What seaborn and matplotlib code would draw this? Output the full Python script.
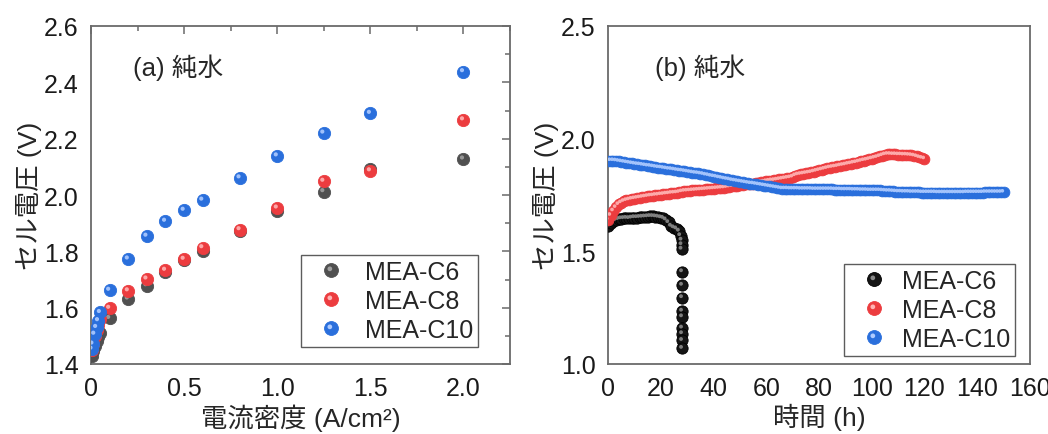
import numpy as np
import pandas as pd
import matplotlib
matplotlib.use("Agg")
import matplotlib.pyplot as plt
import seaborn as sns
from matplotlib.markers import MarkerStyle
from matplotlib.transforms import Affine2D
from matplotlib.lines import Line2D
from matplotlib.ticker import MultipleLocator, FixedLocator, FuncFormatter

# ---------------- data: panel (a) polarization ----------------
current = [0.005, 0.01, 0.02, 0.03, 0.04, 0.05, 0.1, 0.2, 0.3, 0.4, 0.5, 0.6, 0.8, 1.0, 1.25, 1.5, 2.0]
v_c6_a = [1.430, 1.445, 1.465, 1.480, 1.495, 1.510, 1.562, 1.631, 1.678, 1.728, 1.768, 1.801, 1.873, 1.944, 2.012, 2.092, 2.128]
v_c8_a = [1.450, 1.470, 1.500, 1.520, 1.540, 1.560, 1.598, 1.660, 1.702, 1.733, 1.772, 1.813, 1.877, 1.954, 2.049, 2.086, 2.267]
v_c10_a = [1.453, 1.471, 1.506, 1.530, 1.554, 1.583, 1.662, 1.773, 1.854, 1.907, 1.946, 1.982, 2.061, 2.139, 2.220, 2.290, 2.438]

# ---------------- data: panel (b) durability ----------------
time_c6 = [0, 1, 2, 3, 4, 5, 6, 7, 8, 9, 10, 11, 12, 13, 14, 15, 16, 17, 18, 19, 20,
           21, 22, 23, 24, 25, 26, 27, 27.5, 28, 28, 28,
           28.2, 28.2, 28.2, 28.2, 28.2, 28.2, 28.2, 28.2, 28.2]
v_c6_b = [1.612, 1.625, 1.633, 1.638, 1.642, 1.645, 1.646, 1.647, 1.646, 1.648, 1.650,
          1.650, 1.651, 1.652, 1.653, 1.654, 1.655, 1.655, 1.654, 1.652, 1.650,
          1.647, 1.640, 1.628, 1.612, 1.605, 1.600, 1.590, 1.570, 1.550, 1.530, 1.510,
          1.410, 1.350, 1.295, 1.235, 1.210, 1.160, 1.135, 1.105, 1.070]

time_c8 = list(range(0, 121))
v_c8_b = [1.640, 1.660, 1.680, 1.695, 1.708, 1.716, 1.722, 1.726, 1.729, 1.732,
          1.734, 1.736, 1.738, 1.740, 1.742, 1.744, 1.746, 1.747, 1.749, 1.750,
          1.752, 1.753, 1.755, 1.756, 1.758, 1.759, 1.760, 1.762, 1.765, 1.767,
          1.768, 1.769, 1.770, 1.771, 1.772, 1.773, 1.774, 1.775, 1.776, 1.777,
          1.778, 1.779, 1.780, 1.781, 1.782, 1.784, 1.786, 1.788, 1.790, 1.792,
          1.794, 1.796, 1.797, 1.798, 1.799, 1.800, 1.802, 1.804, 1.806, 1.808,
          1.810, 1.812, 1.814, 1.815, 1.817, 1.819, 1.821, 1.823, 1.825, 1.827,
          1.830, 1.836, 1.840, 1.842, 1.844, 1.846, 1.848, 1.850, 1.853, 1.856,
          1.859, 1.862, 1.865, 1.868, 1.871, 1.873, 1.875, 1.877, 1.880, 1.882,
          1.884, 1.887, 1.889, 1.892, 1.894, 1.897, 1.900, 1.903, 1.905, 1.908,
          1.911, 1.914, 1.917, 1.921, 1.925, 1.929, 1.931, 1.931, 1.930, 1.930,
          1.929, 1.929, 1.928, 1.928, 1.927, 1.926, 1.924, 1.921, 1.917, 1.914,
          1.911]

time_c10 = list(range(0, 151))
v_c10_b = [1.902, 1.903, 1.903, 1.902, 1.900, 1.898, 1.896, 1.894, 1.892, 1.890,
           1.888, 1.886, 1.885, 1.883, 1.881, 1.879, 1.878, 1.876, 1.874, 1.872,
           1.871, 1.869, 1.867, 1.865, 1.864, 1.862, 1.860, 1.858, 1.857, 1.855,
           1.853, 1.851, 1.849, 1.847, 1.846, 1.844, 1.842, 1.839, 1.837, 1.834,
           1.832, 1.830, 1.827, 1.825, 1.822, 1.820, 1.818, 1.815, 1.813, 1.811,
           1.809, 1.807, 1.805, 1.803, 1.801, 1.800, 1.798, 1.796, 1.794, 1.792,
           1.790, 1.788, 1.786, 1.784, 1.782, 1.780, 1.778, 1.778, 1.778, 1.777,
           1.777, 1.777, 1.777, 1.776, 1.776, 1.776, 1.776, 1.776, 1.775, 1.775,
           1.775, 1.775, 1.775, 1.775, 1.775, 1.775, 1.774, 1.774, 1.774, 1.773,
           1.773, 1.773, 1.773, 1.772, 1.772, 1.772, 1.771, 1.771, 1.771, 1.770,
           1.770, 1.770, 1.770, 1.770, 1.769, 1.768, 1.767, 1.767, 1.766, 1.765,
           1.764, 1.764, 1.763, 1.763, 1.763, 1.762, 1.762, 1.762, 1.762, 1.761,
           1.761, 1.761, 1.761, 1.761, 1.761, 1.760, 1.760, 1.760, 1.760, 1.760,
           1.760, 1.760, 1.760, 1.760, 1.760, 1.760, 1.761, 1.761, 1.761, 1.761,
           1.761, 1.761, 1.761, 1.762, 1.762, 1.762, 1.762, 1.762, 1.762, 1.762,
           1.763]

labels = ["MEA-C6", "MEA-C8", "MEA-C10"]
xlabel_a = "電流密度 (A/cm²)"
xlabel_b = "時間 (h)"
ylabel = "セル電圧 (V)"
title_a = "(a) 純水"
title_b = "(b) 純水"

# ---------------- style ----------------
sns.set_theme(style="white")
plt.rcParams["font.family"] = ["Liberation Sans", "Noto Sans CJK JP"]
plt.rcParams["axes.unicode_minus"] = False

SPINE = "#6a6a6a"
col_a = ["#505050", "#ec3c3f", "#2a6fdc"]
col_b = ["#151515", "#ec3c3f", "#2a6fdc"]
hl_col_a = ["#a0a0a0", "#ffb4b4", "#aecbff"]
hl_col_b = ["#8a8a8a", "#ffb4b4", "#aecbff"]

HL = MarkerStyle("o", transform=Affine2D().scale(0.34).translate(-0.12, 0.12))

fig = plt.figure(figsize=(10.48, 4.35), dpi=100)
ax_a = fig.add_axes([91 / 1048, 70 / 435, 419 / 1048, 338 / 435])
ax_b = fig.add_axes([608 / 1048, 70 / 435, 422 / 1048, 338 / 435])


def balls(ax, x, y, color, hl, s, edge):
    df = pd.DataFrame({"x": x, "y": y})
    sns.scatterplot(data=df, x="x", y="y", ax=ax, color=color, s=s,
                    edgecolor=edge, linewidth=0.6, legend=False, zorder=3)
    sns.scatterplot(data=df, x="x", y="y", ax=ax, color=hl, s=s, marker=HL,
                    edgecolor="none", linewidth=0, legend=False, zorder=3, alpha=0.9)


# panel (a)
for v, c, h in zip([v_c6_a, v_c8_a, v_c10_a], col_a, hl_col_a):
    balls(ax_a, current, v, c, h, 78, c)

# panel (b)
balls(ax_b, time_c6, v_c6_b, col_b[0], hl_col_b[0], 66, "#000000")
balls(ax_b, time_c8, v_c8_b, col_b[1], hl_col_b[1], 60, col_b[1])
balls(ax_b, time_c10, v_c10_b, col_b[2], hl_col_b[2], 60, col_b[2])

FS = 18


def style_axes(ax):
    for sp in ax.spines.values():
        sp.set_visible(True)
        sp.set_color(SPINE)
        sp.set_linewidth(1.3)
    ax.tick_params(axis="both", which="both", colors=SPINE, labelcolor="#1a1a1a",
                   labelsize=FS, width=1.1)
    ax.tick_params(axis="both", which="major", length=6, pad=3)
    ax.tick_params(axis="both", which="minor", length=3.5)
    ax.grid(False)


# axes (a)
ax_a.set_xlim(0, 2.25)
ax_a.set_ylim(1.4, 2.6)
ax_a.xaxis.set_major_locator(FixedLocator([0, 0.5, 1.0, 1.5, 2.0]))
ax_a.xaxis.set_major_formatter(FuncFormatter(lambda v, p: "0" if v == 0 else f"{v:.1f}"))
ax_a.xaxis.set_minor_locator(MultipleLocator(0.25))
ax_a.yaxis.set_major_locator(MultipleLocator(0.2))
ax_a.yaxis.set_major_formatter(FuncFormatter(lambda v, p: f"{v:.1f}"))
ax_a.yaxis.set_minor_locator(MultipleLocator(0.1))
style_axes(ax_a)
ax_a.tick_params(axis="both", which="both", direction="out", top=True, right=True)
# mirrored ticks point inward
for t in ax_a.xaxis.get_major_ticks() + ax_a.xaxis.get_minor_ticks():
    t.tick2line.set_marker(3)
for t in ax_a.yaxis.get_major_ticks() + ax_a.yaxis.get_minor_ticks():
    t.tick2line.set_marker(0)
ax_a.set_xlabel(xlabel_a, fontsize=19, labelpad=2)
ax_a.set_ylabel(ylabel, fontsize=19, labelpad=1)
ax_a.text(0.10, 0.88, title_a, transform=ax_a.transAxes, fontsize=18.5,
          ha="left", va="center")

# axes (b)
ax_b.set_xlim(0, 160)
ax_b.set_ylim(1.0, 2.5)
ax_b.xaxis.set_major_locator(MultipleLocator(20))
ax_b.xaxis.set_minor_locator(MultipleLocator(10))
ax_b.yaxis.set_major_locator(MultipleLocator(0.5))
ax_b.yaxis.set_major_formatter(FuncFormatter(lambda v, p: f"{v:.1f}"))
ax_b.yaxis.set_minor_locator(MultipleLocator(0.1))
style_axes(ax_b)
ax_b.tick_params(axis="both", which="both", direction="out", top=False, right=False)
ax_b.set_xlabel(xlabel_b, fontsize=19, labelpad=2)
ax_b.set_ylabel(ylabel, fontsize=19, labelpad=1)
ax_b.text(0.111, 0.88, title_b, transform=ax_b.transAxes, fontsize=18.5,
          ha="left", va="center")


def make_handles(cols, hls, edges):
    hs = []
    for c, h, e in zip(cols, hls, edges):
        m = Line2D([], [], linestyle="none", marker="o", markersize=10,
                   markerfacecolor=c, markeredgecolor=e, markeredgewidth=0.6)
        k = Line2D([], [], linestyle="none", marker=HL, markersize=10,
                   markerfacecolor=h, markeredgecolor="none")
        hs.append((m, k))
    return hs


leg_a = ax_a.legend(make_handles(col_a, hl_col_a, col_a), labels,
                    loc="lower right", bbox_to_anchor=(0.924, 0.051),
                    fontsize=18, frameon=True, fancybox=False, edgecolor="#333333",
                    borderpad=0.2, labelspacing=0.2, handlelength=2.0,
                    handletextpad=0.35, borderaxespad=0)
leg_a.get_frame().set_linewidth(1.0)
leg_b = ax_b.legend(make_handles(col_b, hl_col_b, ["#000000", col_b[1], col_b[2]]), labels,
                    loc="lower right", bbox_to_anchor=(0.965, 0.024),
                    fontsize=18, frameon=True, fancybox=False, edgecolor="#333333",
                    borderpad=0.2, labelspacing=0.2, handlelength=2.0,
                    handletextpad=0.1, borderaxespad=0)
leg_b.get_frame().set_linewidth(1.0)

fig.savefig("out.png", dpi=100)
